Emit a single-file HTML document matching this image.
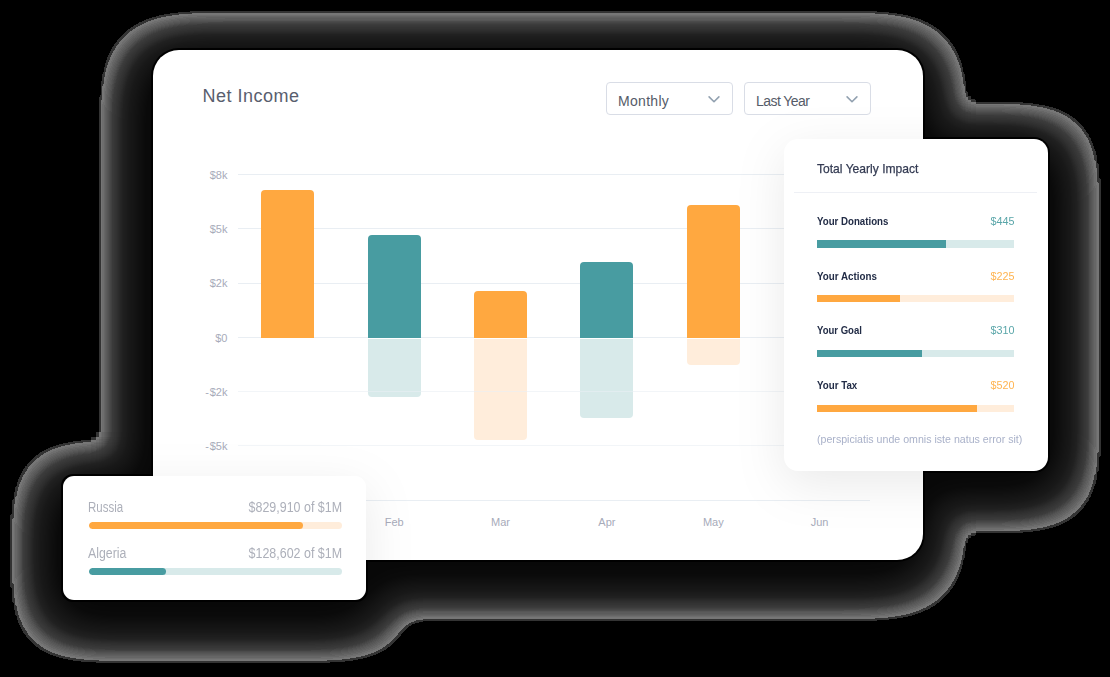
<!DOCTYPE html>
<html><head><meta charset="utf-8">
<style>
*{box-sizing:border-box;margin:0;padding:0}
html,body{width:1110px;height:677px;overflow:hidden;background:#000}
body{position:relative;font-family:"Liberation Sans",sans-serif}
.abs{position:absolute}
#shadow{position:absolute;left:0;top:0}
.card{position:absolute;background:#fff}
#main{left:153px;top:50px;width:770px;height:510px;border-radius:26px}
#right{left:784px;top:139px;width:264px;height:332px;border-radius:14px;}
#russia{left:63px;top:476px;width:303px;height:124px;border-radius:11px;}
.t{position:absolute;white-space:nowrap;line-height:1}
.grid{position:absolute;left:84.5px;width:632px;height:1px;background:#e9eef3}
.bar{position:absolute;width:53px}
.or{background:#ffa840}
.te{background:#489ca1}
.lor{background:#ffeddb}
.lte{background:#d8eaea}
.dd{position:absolute;top:32px;width:127px;height:33px;border:1px solid #d9dde6;border-radius:4px}
.mon{position:absolute;top:466.6px;width:40px;text-align:center;font-size:11px;line-height:1;color:#a7abba}
.yl{position:absolute;right:695.6px;font-size:11px;line-height:1;color:#a7abba;white-space:nowrap}
.sx{transform-origin:0 0}
.sxr{transform-origin:100% 0}
.lab{position:absolute;left:33px;font-size:11px;font-weight:700;line-height:1;color:#222c46;white-space:nowrap;transform-origin:0 0}
.val{position:absolute;right:33.5px;font-size:11px;line-height:1;white-space:nowrap;transform:scaleX(0.98);transform-origin:100% 0}
.pb{position:absolute;left:33px;width:197px;height:7.2px;overflow:hidden}
.pb>div{height:100%}
.rb{position:absolute;left:25.7px;width:253px;height:6.5px;border-radius:3.5px;overflow:hidden}
.rb>div{height:100%;border-radius:3.5px}
</style></head>
<body>
<svg id="shadow" width="1110" height="677" viewBox="0 0 1110 677">
<defs>
<filter id="sh" filterUnits="userSpaceOnUse" x="0" y="0" width="1110" height="677" color-interpolation-filters="sRGB">
<feGaussianBlur in="SourceAlpha" stdDeviation="24"/>
<feColorMatrix type="matrix" values="0 0 0 1 0  0 0 0 1 0  0 0 0 1 0  0 0 0 0 1"/>
<feComponentTransfer>
<feFuncR type="table" tableValues="0 0 0 0 0 0 0 0 0 0 0.49 0.48 0.471 0.461 0.451 0.441 0.431 0.422 0.412 0.402 0.392 0.386 0.379 0.373 0.366 0.359 0.353 0.346 0.34 0.333 0.327 0.32 0.314 0.307 0.301 0.294 0.288 0.281 0.275 0.268 0.261 0.255 0.248 0.242 0.235 0.234 0.232 0.23 0.228 0.226 0.225 0.223 0.221 0.219 0.218 0.216 0.214 0.212 0.211 0.209 0.207 0.205 0.204 0.202 0.2 0.198 0.196 0.195 0.193 0.191 0.189 0.188 0.186 0.184 0.182 0.181 0.179 0.177 0.175 0.174 0.172 0.17 0.168 0.166 0.165 0.163 0.161 0.159 0.158 0.156 0.154 0.152 0.151 0.149 0.147 0.145 0.144 0.142 0.14 0.138 0.136 0.135 0.133 0.131 0.129 0.129 0.128 0.128 0.127 0.127 0.126 0.125 0.125 0.124 0.124 0.123 0.123 0.122 0.122 0.121 0.12 0.12 0.119 0.119 0.118 0.118 0.117 0.117 0.116 0.115 0.115 0.114 0.114 0.113 0.113 0.112 0.111 0.111 0.11 0.11 0.109 0.109 0.108 0.108 0.107 0.106 0.106 0.105 0.105 0.104 0.104 0.103 0.103 0.102 0.101 0.101 0.1 0.1 0.099 0.099 0.098 0.098 0.097 0.097 0.097 0.097 0.096 0.096 0.096 0.095 0.095 0.095 0.094 0.094 0.094 0.094 0.093 0.093 0.093 0.092 0.092 0.092 0.091 0.091 0.091 0.09 0.09 0.09 0.09 0.089 0.089 0.089 0.088 0.088 0.088 0.087 0.087 0.087 0.087 0.086 0.086 0.086 0.085 0.085 0.085 0.084 0.084 0.084 0.084 0.083 0.083 0.083 0.082 0.082 0.082 0.081 0.081 0.081 0.081 0.08 0.08 0.08 0.079 0.079 0.079 0.078 0.078 0.078 0.078 0.077 0.077 0.077 0.076 0.076 0.076 0.075 0.075 0.075 0.075 0.074 0.074 0.074 0.073 0.073 0.073 0.072 0.072 0.072 0.071 0.071 0.071 0.071 0.07 0.07 0.07 0.069 0.069 0.069 0.068 0.068 0.068 0.068 0.067 0.067 0.067 0.066 0.066 0.066 0.066 0.065 0.065 0.065 0.065 0.064 0.064 0.064 0.064 0.063 0.063 0.063 0.063 0.062 0.062 0.062 0.062 0.062 0.061 0.061 0.061 0.061 0.06 0.06 0.06 0.06 0.059 0.059 0.059 0.059 0.058 0.058 0.058 0.058 0.057 0.057 0.057 0.057 0.056 0.056 0.056 0.056 0.055 0.055 0.055 0.055 0.054 0.054 0.054 0.054 0.053 0.053 0.053 0.053 0.052 0.052 0.052 0.052 0.051 0.051 0.051 0.051 0.05 0.05 0.05 0.05 0.05 0.049 0.049 0.049 0.049 0.048 0.048 0.048 0.048 0.047 0.047 0.047 0.047 0.046 0.046 0.046 0.046 0.045 0.045 0.045 0.045 0.044 0.044 0.044 0.044 0.043 0.043 0.043 0.043 0.043 0.043 0.043 0.043 0.043 0.043 0.043 0.042 0.042 0.042 0.042 0.042 0.042 0.042 0.042 0.042 0.042 0.042 0.042 0.042 0.042 0.042 0.042 0.041 0.041 0.041 0.041 0.041 0.041 0.041 0.041 0.041 0.041 0.041 0.041 0.041 0.041 0.041 0.04 0.04 0.04 0.04 0.04 0.04 0.04 0.04 0.04 0.04 0.04 0.04 0.04 0.04 0.04 0.039 0.039 0.039 0.039 0.039 0.039 0.039 0.039 0.039 0.039 0.039 0.039 0.039 0.039 0.039 0.038 0.038 0.038 0.038 0.038 0.038 0.038 0.038 0.038 0.038 0.038 0.038 0.038 0.038 0.038 0.038 0.037 0.037 0.037 0.037 0.037 0.037 0.037 0.037 0.037 0.037 0.037 0.037 0.037 0.037 0.037 0.036 0.036 0.036 0.036 0.036 0.036 0.036 0.036 0.036 0.036 0.036 0.036 0.036 0.036 0.036 0.035 0.035 0.035 0.035 0.035 0.035 0.035 0.035 0.035 0.035 0.035 0.035 0.035 0.035 0.035 0.035 0.035 0.035 0.035 0.035 0.035 0.035 0.035 0.035 0.035 0.035 0.035 0.035 0.035 0.035 0.035 0.035 0.035 0.035 0.035 0.035 0.035 0.035 0.035 0.035 0.035 0.035 0.035 0.035 0.035 0.035 0.035 0.035 0.035 0.035 0.035 0.035 0.035 0.035 0.035 0.035 0.035 0.035 0.035 0.035 0.035 0.035 0.035 0.035 0.035 0.035 0.035 0.035 0.034 0.034 0.034 0.034 0.034 0.034 0.034 0.034 0.034 0.034 0.034 0.034 0.034 0.034 0.034 0.034 0.034 0.034 0.034 0.034 0.034 0.034 0.034 0.034 0.034 0.034 0.034 0.034 0.034 0.034 0.034 0.034 0.034 0.034 0.034 0.034 0.034 0.034 0.034 0.034 0.034 0.034 0.034 0.034 0.034 0.034 0.034 0.034 0.034 0.034 0.034 0.034 0.034 0.034 0.034 0.034 0.034 0.034 0.034 0.034 0.034 0.034 0.034 0.034 0.034 0.034 0.034 0.034 0.034 0.034 0.034 0.034 0.034 0.034 0.034 0.034 0.034 0.034 0.034 0.034 0.034 0.034 0.033 0.033 0.033 0.033 0.033 0.033 0.033 0.033 0.033 0.033 0.033 0.033 0.033 0.033 0.033 0.033 0.033 0.033 0.033 0.033 0.033 0.033 0.033 0.033 0.033 0.033 0.033 0.033 0.033 0.033 0.033 0.033 0.033 0.033 0.033 0.033 0.033 0.033 0.033 0.033 0.033 0.033 0.033 0.033 0.033 0.033 0.033 0.033 0.033 0.033 0.033 0.033 0.033 0.033 0.033 0.033 0.033 0.033 0.033 0.033 0.033 0.033 0.033 0.033 0.033 0.033 0.033 0.033 0.033 0.033 0.033 0.033 0.033 0.033 0.033 0.033 0.033 0.033 0.033 0.033 0.033 0.033 0.032 0.032 0.032 0.032 0.032 0.032 0.032 0.032 0.032 0.032 0.032 0.032 0.032 0.032 0.032 0.032 0.032 0.032 0.032 0.032 0.032 0.032 0.032 0.032 0.032 0.032 0.032 0.032 0.032 0.032 0.032 0.032 0.032 0.032 0.032 0.032 0.032 0.032 0.032 0.032 0.032 0.032 0.032 0.032 0.032 0.032 0.032 0.032 0.032 0.032 0.032 0.032 0.032 0.032 0.032 0.032 0.032 0.032 0.032 0.032 0.032 0.032 0.032 0.032 0.032 0.032 0.032 0.032 0.032 0.032 0.032 0.032 0.032 0.032 0.032 0.032 0.032 0.032 0.032 0.032 0.032 0.031 0.031 0.031 0.031 0.031 0.031 0.031 0.031 0.031 0.031 0.031"/>
<feFuncG type="table" tableValues="0 0 0 0 0 0 0 0 0 0 0.49 0.48 0.471 0.461 0.451 0.441 0.431 0.422 0.412 0.402 0.392 0.386 0.379 0.373 0.366 0.359 0.353 0.346 0.34 0.333 0.327 0.32 0.314 0.307 0.301 0.294 0.288 0.281 0.275 0.268 0.261 0.255 0.248 0.242 0.235 0.234 0.232 0.23 0.228 0.226 0.225 0.223 0.221 0.219 0.218 0.216 0.214 0.212 0.211 0.209 0.207 0.205 0.204 0.202 0.2 0.198 0.196 0.195 0.193 0.191 0.189 0.188 0.186 0.184 0.182 0.181 0.179 0.177 0.175 0.174 0.172 0.17 0.168 0.166 0.165 0.163 0.161 0.159 0.158 0.156 0.154 0.152 0.151 0.149 0.147 0.145 0.144 0.142 0.14 0.138 0.136 0.135 0.133 0.131 0.129 0.129 0.128 0.128 0.127 0.127 0.126 0.125 0.125 0.124 0.124 0.123 0.123 0.122 0.122 0.121 0.12 0.12 0.119 0.119 0.118 0.118 0.117 0.117 0.116 0.115 0.115 0.114 0.114 0.113 0.113 0.112 0.111 0.111 0.11 0.11 0.109 0.109 0.108 0.108 0.107 0.106 0.106 0.105 0.105 0.104 0.104 0.103 0.103 0.102 0.101 0.101 0.1 0.1 0.099 0.099 0.098 0.098 0.097 0.097 0.097 0.097 0.096 0.096 0.096 0.095 0.095 0.095 0.094 0.094 0.094 0.094 0.093 0.093 0.093 0.092 0.092 0.092 0.091 0.091 0.091 0.09 0.09 0.09 0.09 0.089 0.089 0.089 0.088 0.088 0.088 0.087 0.087 0.087 0.087 0.086 0.086 0.086 0.085 0.085 0.085 0.084 0.084 0.084 0.084 0.083 0.083 0.083 0.082 0.082 0.082 0.081 0.081 0.081 0.081 0.08 0.08 0.08 0.079 0.079 0.079 0.078 0.078 0.078 0.078 0.077 0.077 0.077 0.076 0.076 0.076 0.075 0.075 0.075 0.075 0.074 0.074 0.074 0.073 0.073 0.073 0.072 0.072 0.072 0.071 0.071 0.071 0.071 0.07 0.07 0.07 0.069 0.069 0.069 0.068 0.068 0.068 0.068 0.067 0.067 0.067 0.066 0.066 0.066 0.066 0.065 0.065 0.065 0.065 0.064 0.064 0.064 0.064 0.063 0.063 0.063 0.063 0.062 0.062 0.062 0.062 0.062 0.061 0.061 0.061 0.061 0.06 0.06 0.06 0.06 0.059 0.059 0.059 0.059 0.058 0.058 0.058 0.058 0.057 0.057 0.057 0.057 0.056 0.056 0.056 0.056 0.055 0.055 0.055 0.055 0.054 0.054 0.054 0.054 0.053 0.053 0.053 0.053 0.052 0.052 0.052 0.052 0.051 0.051 0.051 0.051 0.05 0.05 0.05 0.05 0.05 0.049 0.049 0.049 0.049 0.048 0.048 0.048 0.048 0.047 0.047 0.047 0.047 0.046 0.046 0.046 0.046 0.045 0.045 0.045 0.045 0.044 0.044 0.044 0.044 0.043 0.043 0.043 0.043 0.043 0.043 0.043 0.043 0.043 0.043 0.043 0.042 0.042 0.042 0.042 0.042 0.042 0.042 0.042 0.042 0.042 0.042 0.042 0.042 0.042 0.042 0.042 0.041 0.041 0.041 0.041 0.041 0.041 0.041 0.041 0.041 0.041 0.041 0.041 0.041 0.041 0.041 0.04 0.04 0.04 0.04 0.04 0.04 0.04 0.04 0.04 0.04 0.04 0.04 0.04 0.04 0.04 0.039 0.039 0.039 0.039 0.039 0.039 0.039 0.039 0.039 0.039 0.039 0.039 0.039 0.039 0.039 0.038 0.038 0.038 0.038 0.038 0.038 0.038 0.038 0.038 0.038 0.038 0.038 0.038 0.038 0.038 0.038 0.037 0.037 0.037 0.037 0.037 0.037 0.037 0.037 0.037 0.037 0.037 0.037 0.037 0.037 0.037 0.036 0.036 0.036 0.036 0.036 0.036 0.036 0.036 0.036 0.036 0.036 0.036 0.036 0.036 0.036 0.035 0.035 0.035 0.035 0.035 0.035 0.035 0.035 0.035 0.035 0.035 0.035 0.035 0.035 0.035 0.035 0.035 0.035 0.035 0.035 0.035 0.035 0.035 0.035 0.035 0.035 0.035 0.035 0.035 0.035 0.035 0.035 0.035 0.035 0.035 0.035 0.035 0.035 0.035 0.035 0.035 0.035 0.035 0.035 0.035 0.035 0.035 0.035 0.035 0.035 0.035 0.035 0.035 0.035 0.035 0.035 0.035 0.035 0.035 0.035 0.035 0.035 0.035 0.035 0.035 0.035 0.035 0.035 0.034 0.034 0.034 0.034 0.034 0.034 0.034 0.034 0.034 0.034 0.034 0.034 0.034 0.034 0.034 0.034 0.034 0.034 0.034 0.034 0.034 0.034 0.034 0.034 0.034 0.034 0.034 0.034 0.034 0.034 0.034 0.034 0.034 0.034 0.034 0.034 0.034 0.034 0.034 0.034 0.034 0.034 0.034 0.034 0.034 0.034 0.034 0.034 0.034 0.034 0.034 0.034 0.034 0.034 0.034 0.034 0.034 0.034 0.034 0.034 0.034 0.034 0.034 0.034 0.034 0.034 0.034 0.034 0.034 0.034 0.034 0.034 0.034 0.034 0.034 0.034 0.034 0.034 0.034 0.034 0.034 0.034 0.033 0.033 0.033 0.033 0.033 0.033 0.033 0.033 0.033 0.033 0.033 0.033 0.033 0.033 0.033 0.033 0.033 0.033 0.033 0.033 0.033 0.033 0.033 0.033 0.033 0.033 0.033 0.033 0.033 0.033 0.033 0.033 0.033 0.033 0.033 0.033 0.033 0.033 0.033 0.033 0.033 0.033 0.033 0.033 0.033 0.033 0.033 0.033 0.033 0.033 0.033 0.033 0.033 0.033 0.033 0.033 0.033 0.033 0.033 0.033 0.033 0.033 0.033 0.033 0.033 0.033 0.033 0.033 0.033 0.033 0.033 0.033 0.033 0.033 0.033 0.033 0.033 0.033 0.033 0.033 0.033 0.033 0.032 0.032 0.032 0.032 0.032 0.032 0.032 0.032 0.032 0.032 0.032 0.032 0.032 0.032 0.032 0.032 0.032 0.032 0.032 0.032 0.032 0.032 0.032 0.032 0.032 0.032 0.032 0.032 0.032 0.032 0.032 0.032 0.032 0.032 0.032 0.032 0.032 0.032 0.032 0.032 0.032 0.032 0.032 0.032 0.032 0.032 0.032 0.032 0.032 0.032 0.032 0.032 0.032 0.032 0.032 0.032 0.032 0.032 0.032 0.032 0.032 0.032 0.032 0.032 0.032 0.032 0.032 0.032 0.032 0.032 0.032 0.032 0.032 0.032 0.032 0.032 0.032 0.032 0.032 0.032 0.032 0.031 0.031 0.031 0.031 0.031 0.031 0.031 0.031 0.031 0.031 0.031"/>
<feFuncB type="table" tableValues="0 0 0 0 0 0 0 0 0 0 0.49 0.48 0.471 0.461 0.451 0.441 0.431 0.422 0.412 0.402 0.392 0.386 0.379 0.373 0.366 0.359 0.353 0.346 0.34 0.333 0.327 0.32 0.314 0.307 0.301 0.294 0.288 0.281 0.275 0.268 0.261 0.255 0.248 0.242 0.235 0.234 0.232 0.23 0.228 0.226 0.225 0.223 0.221 0.219 0.218 0.216 0.214 0.212 0.211 0.209 0.207 0.205 0.204 0.202 0.2 0.198 0.196 0.195 0.193 0.191 0.189 0.188 0.186 0.184 0.182 0.181 0.179 0.177 0.175 0.174 0.172 0.17 0.168 0.166 0.165 0.163 0.161 0.159 0.158 0.156 0.154 0.152 0.151 0.149 0.147 0.145 0.144 0.142 0.14 0.138 0.136 0.135 0.133 0.131 0.129 0.129 0.128 0.128 0.127 0.127 0.126 0.125 0.125 0.124 0.124 0.123 0.123 0.122 0.122 0.121 0.12 0.12 0.119 0.119 0.118 0.118 0.117 0.117 0.116 0.115 0.115 0.114 0.114 0.113 0.113 0.112 0.111 0.111 0.11 0.11 0.109 0.109 0.108 0.108 0.107 0.106 0.106 0.105 0.105 0.104 0.104 0.103 0.103 0.102 0.101 0.101 0.1 0.1 0.099 0.099 0.098 0.098 0.097 0.097 0.097 0.097 0.096 0.096 0.096 0.095 0.095 0.095 0.094 0.094 0.094 0.094 0.093 0.093 0.093 0.092 0.092 0.092 0.091 0.091 0.091 0.09 0.09 0.09 0.09 0.089 0.089 0.089 0.088 0.088 0.088 0.087 0.087 0.087 0.087 0.086 0.086 0.086 0.085 0.085 0.085 0.084 0.084 0.084 0.084 0.083 0.083 0.083 0.082 0.082 0.082 0.081 0.081 0.081 0.081 0.08 0.08 0.08 0.079 0.079 0.079 0.078 0.078 0.078 0.078 0.077 0.077 0.077 0.076 0.076 0.076 0.075 0.075 0.075 0.075 0.074 0.074 0.074 0.073 0.073 0.073 0.072 0.072 0.072 0.071 0.071 0.071 0.071 0.07 0.07 0.07 0.069 0.069 0.069 0.068 0.068 0.068 0.068 0.067 0.067 0.067 0.066 0.066 0.066 0.066 0.065 0.065 0.065 0.065 0.064 0.064 0.064 0.064 0.063 0.063 0.063 0.063 0.062 0.062 0.062 0.062 0.062 0.061 0.061 0.061 0.061 0.06 0.06 0.06 0.06 0.059 0.059 0.059 0.059 0.058 0.058 0.058 0.058 0.057 0.057 0.057 0.057 0.056 0.056 0.056 0.056 0.055 0.055 0.055 0.055 0.054 0.054 0.054 0.054 0.053 0.053 0.053 0.053 0.052 0.052 0.052 0.052 0.051 0.051 0.051 0.051 0.05 0.05 0.05 0.05 0.05 0.049 0.049 0.049 0.049 0.048 0.048 0.048 0.048 0.047 0.047 0.047 0.047 0.046 0.046 0.046 0.046 0.045 0.045 0.045 0.045 0.044 0.044 0.044 0.044 0.043 0.043 0.043 0.043 0.043 0.043 0.043 0.043 0.043 0.043 0.043 0.042 0.042 0.042 0.042 0.042 0.042 0.042 0.042 0.042 0.042 0.042 0.042 0.042 0.042 0.042 0.042 0.041 0.041 0.041 0.041 0.041 0.041 0.041 0.041 0.041 0.041 0.041 0.041 0.041 0.041 0.041 0.04 0.04 0.04 0.04 0.04 0.04 0.04 0.04 0.04 0.04 0.04 0.04 0.04 0.04 0.04 0.039 0.039 0.039 0.039 0.039 0.039 0.039 0.039 0.039 0.039 0.039 0.039 0.039 0.039 0.039 0.038 0.038 0.038 0.038 0.038 0.038 0.038 0.038 0.038 0.038 0.038 0.038 0.038 0.038 0.038 0.038 0.037 0.037 0.037 0.037 0.037 0.037 0.037 0.037 0.037 0.037 0.037 0.037 0.037 0.037 0.037 0.036 0.036 0.036 0.036 0.036 0.036 0.036 0.036 0.036 0.036 0.036 0.036 0.036 0.036 0.036 0.035 0.035 0.035 0.035 0.035 0.035 0.035 0.035 0.035 0.035 0.035 0.035 0.035 0.035 0.035 0.035 0.035 0.035 0.035 0.035 0.035 0.035 0.035 0.035 0.035 0.035 0.035 0.035 0.035 0.035 0.035 0.035 0.035 0.035 0.035 0.035 0.035 0.035 0.035 0.035 0.035 0.035 0.035 0.035 0.035 0.035 0.035 0.035 0.035 0.035 0.035 0.035 0.035 0.035 0.035 0.035 0.035 0.035 0.035 0.035 0.035 0.035 0.035 0.035 0.035 0.035 0.035 0.035 0.034 0.034 0.034 0.034 0.034 0.034 0.034 0.034 0.034 0.034 0.034 0.034 0.034 0.034 0.034 0.034 0.034 0.034 0.034 0.034 0.034 0.034 0.034 0.034 0.034 0.034 0.034 0.034 0.034 0.034 0.034 0.034 0.034 0.034 0.034 0.034 0.034 0.034 0.034 0.034 0.034 0.034 0.034 0.034 0.034 0.034 0.034 0.034 0.034 0.034 0.034 0.034 0.034 0.034 0.034 0.034 0.034 0.034 0.034 0.034 0.034 0.034 0.034 0.034 0.034 0.034 0.034 0.034 0.034 0.034 0.034 0.034 0.034 0.034 0.034 0.034 0.034 0.034 0.034 0.034 0.034 0.034 0.033 0.033 0.033 0.033 0.033 0.033 0.033 0.033 0.033 0.033 0.033 0.033 0.033 0.033 0.033 0.033 0.033 0.033 0.033 0.033 0.033 0.033 0.033 0.033 0.033 0.033 0.033 0.033 0.033 0.033 0.033 0.033 0.033 0.033 0.033 0.033 0.033 0.033 0.033 0.033 0.033 0.033 0.033 0.033 0.033 0.033 0.033 0.033 0.033 0.033 0.033 0.033 0.033 0.033 0.033 0.033 0.033 0.033 0.033 0.033 0.033 0.033 0.033 0.033 0.033 0.033 0.033 0.033 0.033 0.033 0.033 0.033 0.033 0.033 0.033 0.033 0.033 0.033 0.033 0.033 0.033 0.033 0.032 0.032 0.032 0.032 0.032 0.032 0.032 0.032 0.032 0.032 0.032 0.032 0.032 0.032 0.032 0.032 0.032 0.032 0.032 0.032 0.032 0.032 0.032 0.032 0.032 0.032 0.032 0.032 0.032 0.032 0.032 0.032 0.032 0.032 0.032 0.032 0.032 0.032 0.032 0.032 0.032 0.032 0.032 0.032 0.032 0.032 0.032 0.032 0.032 0.032 0.032 0.032 0.032 0.032 0.032 0.032 0.032 0.032 0.032 0.032 0.032 0.032 0.032 0.032 0.032 0.032 0.032 0.032 0.032 0.032 0.032 0.032 0.032 0.032 0.032 0.032 0.032 0.032 0.032 0.032 0.032 0.031 0.031 0.031 0.031 0.031 0.031 0.031 0.031 0.031 0.031 0.031"/>
</feComponentTransfer>
</filter>
</defs>
<g filter="url(#sh)">
<rect x="148.5" y="60.75" width="770" height="510.5" rx="26" fill="#fff"/>
<rect x="784" y="151.5" width="267" height="332" rx="13" fill="#fff"/>
<rect x="60" y="489" width="306" height="124" rx="10" fill="#fff"/>
</g>
<rect x="151" y="48" width="774" height="514" rx="28" fill="#000"/>
<rect x="782" y="137" width="268" height="336" rx="16" fill="#000"/>
<rect x="61" y="474" width="307" height="128" rx="12" fill="#000"/>
</svg>

<div id="main" class="card">
  <div class="t" style="left:49.5px;top:37px;font-size:18px;letter-spacing:0.5px;color:#595e6e">Net Income</div>
  <div class="dd" style="left:453px"><div class="t" style="left:11px;top:11px;font-size:14px;letter-spacing:0.3px;color:#555b68">Monthly</div>
    <svg class="abs" style="left:99px;top:12px" width="16" height="10"><polyline points="3.1,1.9 8,6.7 12.9,1.9" fill="none" stroke="#92a1b0" stroke-width="1.6" stroke-linecap="round" stroke-linejoin="round"/></svg></div>
  <div class="dd" style="left:591px"><div class="t" style="left:11px;top:11px;font-size:14px;letter-spacing:-0.55px;color:#555b68">Last Year</div>
    <svg class="abs" style="left:99px;top:12px" width="16" height="10"><polyline points="3.1,1.9 8,6.7 12.9,1.9" fill="none" stroke="#92a1b0" stroke-width="1.6" stroke-linecap="round" stroke-linejoin="round"/></svg></div>

  <div class="yl" style="top:119.6px">$8k</div>
  <div class="yl" style="top:174px">$5k</div>
  <div class="yl" style="top:228.4px">$2k</div>
  <div class="yl" style="top:282.8px">$0</div>
  <div class="yl" style="top:336.7px"><span style="margin-right:0.8px">-</span>$2k</div>
  <div class="yl" style="top:390.6px"><span style="margin-right:0.8px">-</span>$5k</div>

  <div class="grid" style="top:124px"></div>
  <div class="grid" style="top:178px"></div>
  <div class="grid" style="top:233px"></div>
  <div class="grid" style="top:287px"></div>

  <div class="bar or" style="left:108px;top:140px;height:148px;border-radius:4px 4px 0 0"></div>
  <div class="bar te" style="left:214.7px;top:185px;height:103px;border-radius:4px 4px 0 0"></div>
  <div class="bar lte" style="left:214.7px;top:289px;height:58px;border-radius:0 0 4px 4px"></div>
  <div class="bar or" style="left:321px;top:241px;height:47px;border-radius:4px 4px 0 0"></div>
  <div class="bar lor" style="left:321px;top:289px;height:100.5px;border-radius:0 0 4px 4px"></div>
  <div class="bar te" style="left:427.4px;top:211.5px;height:76.5px;border-radius:4px 4px 0 0"></div>
  <div class="bar lte" style="left:427.4px;top:289px;height:79px;border-radius:0 0 4px 4px"></div>
  <div class="bar or" style="left:533.8px;top:154.5px;height:133.5px;border-radius:4px 4px 0 0"></div>
  <div class="bar lor" style="left:533.8px;top:289px;height:26px;border-radius:0 0 4px 4px"></div>

  <div class="grid" style="top:341.2px;opacity:.6"></div>
  <div class="grid" style="top:395px;opacity:.6"></div>
  <div class="grid" style="top:449.5px"></div>

  <div class="mon" style="left:221.2px">Feb</div>
  <div class="mon" style="left:327.5px">Mar</div>
  <div class="mon" style="left:433.9px">Apr</div>
  <div class="mon" style="left:540.3px">May</div>
  <div class="mon" style="left:646.6px">Jun</div>
</div>

<svg class="abs" style="left:0;top:0" width="1110" height="677">
<defs>
<filter id="hl" filterUnits="userSpaceOnUse" x="0" y="0" width="1110" height="677" color-interpolation-filters="sRGB">
<feGaussianBlur in="SourceAlpha" stdDeviation="24"/>
<feColorMatrix type="matrix" values="0 0 0 0 0  0 0 0 0 0  0 0 0 0 0  0 0 0 0.085 0"/>
</filter>
<clipPath id="mc"><rect x="153" y="50" width="770" height="510" rx="26"/></clipPath>
</defs>
<g clip-path="url(#mc)"><g filter="url(#hl)">
<rect x="784" y="151.5" width="267" height="332" rx="13" fill="#fff"/>
<rect x="60" y="489" width="306" height="124" rx="10" fill="#fff"/>
</g></g>
</svg>

<div id="right" class="card"><div class="abs" style="left:0;top:1px;width:264px;height:331px">
  <div class="t sx" style="left:33px;top:22.2px;font-size:13.5px;color:#333a52;-webkit-text-stroke:0.25px #333a52;transform:scaleX(0.895)">Total Yearly Impact</div>
  <div class="abs" style="left:10px;top:52px;width:243px;height:1px;background:#eef0f5"></div>

  <div class="lab" style="top:76px;transform:scaleX(0.88)">Your Donations</div>
  <div class="val" style="top:76px;color:#5aa6a9">$445</div>
  <div class="pb" style="top:100.4px;background:#d8eaea"><div style="width:128.7px;background:#489ca1"></div></div>

  <div class="lab" style="top:130.7px;transform:scaleX(0.89)">Your Actions</div>
  <div class="val" style="top:130.7px;color:#ffb451">$225</div>
  <div class="pb" style="top:155.2px;background:#ffeddb"><div style="width:82.5px;background:#ffa840"></div></div>

  <div class="lab" style="top:185.2px;transform:scaleX(0.867)">Your Goal</div>
  <div class="val" style="top:185.2px;color:#5aa6a9">$310</div>
  <div class="pb" style="top:210px;background:#d8eaea"><div style="width:104.9px;background:#489ca1"></div></div>

  <div class="lab" style="top:239.9px;transform:scaleX(0.885)">Your Tax</div>
  <div class="val" style="top:239.9px;color:#ffb451">$520</div>
  <div class="pb" style="top:264.6px;background:#ffeddb"><div style="width:159.5px;background:#ffa840"></div></div>

  <div class="t sx" style="left:32.6px;top:294.2px;font-size:11px;color:#a9b1c9;transform:scaleX(0.965)">(perspiciatis unde omnis iste natus error sit)</div>
  </div>
</div>

<div id="russia" class="card">
  <div class="t sx" style="left:25px;top:24.1px;font-size:14px;color:#adb0ba;transform:scaleX(0.82)">Russia</div>
  <div class="t sxr" style="right:23.5px;top:24.1px;font-size:14px;color:#adb0ba;transform:scaleX(0.89)">$829,910 of $1M</div>
  <div class="rb" style="top:46.4px;background:#ffeddb"><div style="width:214px;background:#ffa840"></div></div>
  <div class="t sx" style="left:25px;top:69.8px;font-size:14px;color:#adb0ba;transform:scaleX(0.88)">Algeria</div>
  <div class="t sxr" style="right:23.5px;top:69.8px;font-size:14px;color:#adb0ba;transform:scaleX(0.89)">$128,602 of $1M</div>
  <div class="rb" style="top:92px;background:#d8eaea"><div style="width:77.6px;background:#489ca1"></div></div>
</div>
</body></html>
